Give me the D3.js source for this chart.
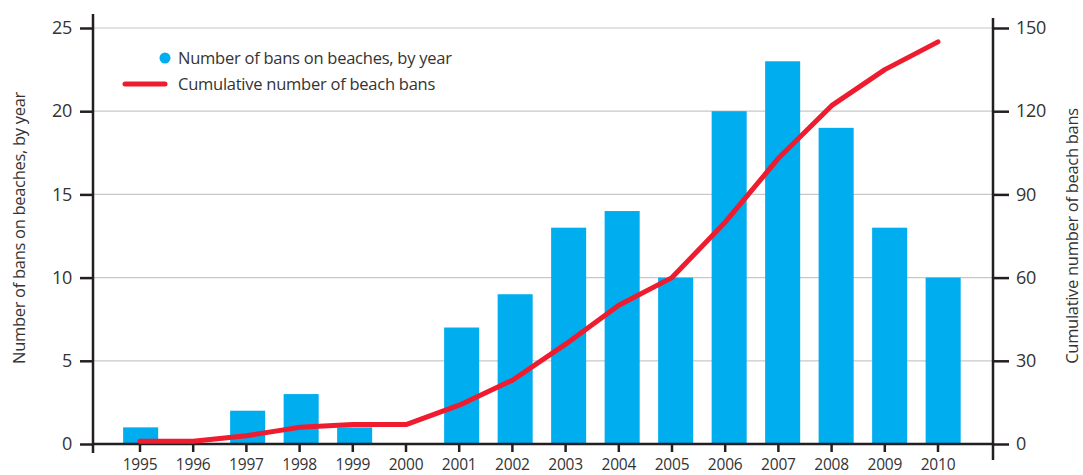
<!DOCTYPE html>
<html>
<head>
<meta charset="utf-8">
<script src="https://cdn.jsdelivr.net/npm/d3@7"></script>
<style>
  body { margin: 0; background: #fff; }
  svg text { font-family: "Open Sans", sans-serif; font-weight: 400; fill: #333; }
</style>
</head>
<body>
<svg id="chart" width="1083" height="475"></svg>
<script>
const years = ["1995","1996","1997","1998","1999","2000","2001","2002","2003","2004","2005","2006","2007","2008","2009","2010"];
const bansPerYear = [1, 0, 2, 3, 1, 0, 7, 9, 13, 14, 10, 20, 23, 19, 13, 10];
const cumulativeBans = [1, 1, 3, 6, 7, 7, 14, 23, 36, 50, 60, 80, 103, 122, 135, 145];
const leftTicks = [0, 5, 10, 15, 20, 25];
const rightTicks = [0, 30, 60, 90, 120, 150];

const svg = d3.select("#chart");
const plotLeft = 93, plotRight = 993, plotTop = 28, plotBottom = 444;
const ink = "#231f20";

// x for ticks and line points
const x = d3.scaleBand()
  .domain(years)
  .range([113.4, 964.6])
  .paddingInner(0.34)
  .paddingOuter(0.17);
const cx = d => x(d) + x.bandwidth() / 2;

// bars sit on a slightly wider step than the ticks in the original
const xBar = d3.scaleBand()
  .domain(years)
  .range([113.9, 969.9])
  .paddingInner(0.345)
  .paddingOuter(0.1725);

const yL = d3.scaleLinear().domain([0, 25]).range([plotBottom, plotTop]);
const yR = d3.scaleLinear().domain([0, 150]).range([plotBottom, plotTop]);

// gridlines
svg.append("g")
  .selectAll("line")
  .data(leftTicks.slice(1))
  .join("line")
  .attr("x1", plotLeft).attr("x2", plotRight)
  .attr("y1", d => yL(d)).attr("y2", d => yL(d))
  .attr("stroke", "#c8c8c8").attr("stroke-width", 1.2);

// bars
svg.append("g")
  .selectAll("rect")
  .data(years)
  .join("rect")
  .attr("x", d => xBar(d))
  .attr("y", (d, i) => yL(bansPerYear[i]))
  .attr("width", xBar.bandwidth())
  .attr("height", (d, i) => plotBottom - yL(bansPerYear[i]))
  .attr("fill", "#00adee");

// left axis
const gL = svg.append("g").attr("transform", `translate(${plotLeft},0)`)
  .call(d3.axisLeft(yL).tickValues(leftTicks).tickSize(13).tickPadding(8));
gL.select(".domain").remove();
gL.selectAll(".tick line").attr("stroke", ink).attr("stroke-width", 2.5);
gL.selectAll(".tick text").attr("font-size", 18).attr("font-family", null).attr("fill", null)
  .attr("letter-spacing", -0.3);
svg.append("line").attr("x1", plotLeft).attr("x2", plotLeft).attr("y1", 14).attr("y2", 453)
  .attr("stroke", ink).attr("stroke-width", 2.5);

// right axis
const gR = svg.append("g").attr("transform", `translate(${plotRight},0)`)
  .call(d3.axisRight(yR).tickValues(rightTicks).tickSize(16).tickPadding(7));
gR.select(".domain").remove();
gR.selectAll(".tick line").attr("stroke", ink).attr("stroke-width", 2.5);
gR.selectAll(".tick text").attr("font-size", 18).attr("font-family", null).attr("fill", null)
  .attr("letter-spacing", -0.3);
svg.append("line").attr("x1", plotRight).attr("x2", plotRight).attr("y1", 18).attr("y2", 460)
  .attr("stroke", ink).attr("stroke-width", 2.5);

// bottom axis
const gB = svg.append("g").attr("transform", `translate(0,${plotBottom})`)
  .call(d3.axisBottom(x).tickSize(8).tickPadding(7));
gB.select(".domain").remove();
gB.selectAll(".tick line").attr("stroke", ink).attr("stroke-width", 2.5);
gB.selectAll(".tick text").attr("font-size", 15.5).attr("font-family", null).attr("fill", null)
  .attr("letter-spacing", -0.2);
svg.append("line").attr("x1", plotLeft).attr("x2", plotRight).attr("y1", plotBottom).attr("y2", plotBottom)
  .attr("stroke", ink).attr("stroke-width", 2.5);

// cumulative line
svg.append("path")
  .datum(years)
  .attr("d", d3.line().x(d => cx(d)).y((d, i) => yR(cumulativeBans[i])))
  .attr("fill", "none")
  .attr("stroke", "#ee1c2e")
  .attr("stroke-width", 5)
  .attr("stroke-linejoin", "round")
  .attr("stroke-linecap", "round");

// axis titles
svg.append("text")
  .attr("transform", `translate(25,${(plotTop + plotBottom) / 2 - 8}) rotate(-90)`)
  .attr("text-anchor", "middle")
  .attr("font-size", 16.5)
  .attr("letter-spacing", -0.3)
  .text("Number of bans on beaches, by year");
svg.append("text")
  .attr("transform", `translate(1078,${(plotTop + plotBottom) / 2}) rotate(-90)`)
  .attr("text-anchor", "middle")
  .attr("font-size", 16.5)
  .attr("letter-spacing", -0.3)
  .text("Cumulative number of beach bans");

// legend
const lg = svg.append("g");
lg.append("circle").attr("cx", 165).attr("cy", 58).attr("r", 5.5).attr("fill", "#00adee");
lg.append("text").attr("x", 178).attr("y", 58).attr("dy", "0.35em").attr("font-size", 16.5)
  .attr("letter-spacing", -0.25)
  .text("Number of bans on beaches, by year");
lg.append("line").attr("x1", 125).attr("x2", 165).attr("y1", 84).attr("y2", 84)
  .attr("stroke", "#ee1c2e").attr("stroke-width", 5).attr("stroke-linecap", "round");
lg.append("text").attr("x", 178).attr("y", 84).attr("dy", "0.35em").attr("font-size", 16.5)
  .attr("letter-spacing", -0.25)
  .text("Cumulative number of beach bans");
</script>
</body>
</html>
